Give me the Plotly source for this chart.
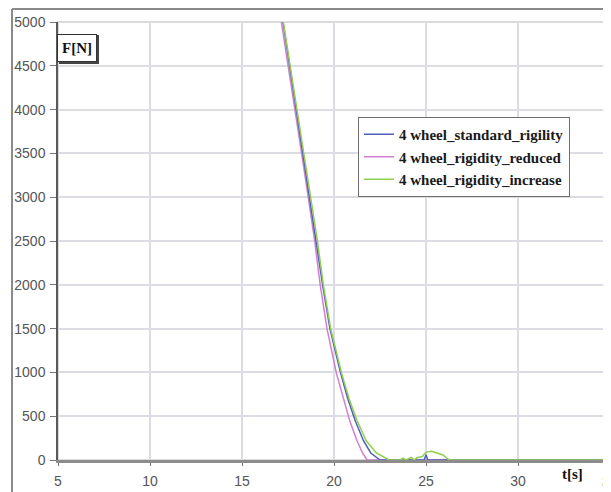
import plotly.graph_objects as go

# ---- data ----
t_standard = [16.8, 17.23, 17.6, 17.97, 18.33, 18.7, 19.05, 19.38, 19.78, 20.35, 20.75, 21.15, 21.6, 22.0, 22.5,
              24.9, 25.0, 25.1, 35.0]
f_standard = [5600, 5000, 4500, 4000, 3500, 3000, 2500, 2000, 1500, 1000, 700, 450, 220, 80, 0,
              0, 60, 0, 0]

t_reduced = [16.7, 17.15, 17.52, 17.88, 18.24, 18.6, 18.95, 19.25, 19.62, 20.12, 20.5, 20.85, 21.25, 21.55, 21.8, 35.0]
f_reduced = [5600, 5000, 4500, 4000, 3500, 3000, 2500, 2000, 1500, 1000, 700, 450, 220, 80, 0, 0]

t_increase = [16.8, 17.25, 17.63, 18.0, 18.36, 18.73, 19.1, 19.42, 19.82, 20.4, 20.82, 21.25, 21.75, 22.3, 23.0,
              23.6, 23.75, 23.9, 24.2, 24.35, 24.5, 24.8, 25.0, 25.3, 25.6, 25.9, 26.2, 26.4, 35.0]
f_increase = [5600, 5000, 4500, 4000, 3500, 3000, 2500, 2000, 1500, 1000, 700, 450, 220, 80, 0,
              0, 20, 0, 30, 0, 25, 40, 90, 100, 80, 60, 10, 0, 0]

names = ["4 wheel_standard_rigility", "4 wheel_rigidity_reduced", "4 wheel_rigidity_increase"]
colors = ["#4f5fb8", "#d07fd0", "#8fcf4f"]

x_ticks = [5, 10, 15, 20, 25, 30, 35]
y_ticks = [0, 500, 1000, 1500, 2000, 2500, 3000, 3500, 4000, 4500, 5000]

fig = go.Figure()
for t, f, n, c in [(t_reduced, f_reduced, names[1], colors[1]),
                   (t_standard, f_standard, names[0], colors[0]),
                   (t_increase, f_increase, names[2], colors[2])]:
    fig.add_trace(go.Scatter(x=t, y=f, mode="lines", name=n,
                             line=dict(color=c, width=1.5),
                             legendrank={names[0]: 1, names[1]: 2, names[2]: 3}[n]))

OFF = 8  # page body margin
W, H = 611 - OFF, 492 - OFF
L, R, T, B = 58 - OFF, 1, 22 - OFF, 32
pw, ph = W - L - R, H - T - B


def px(x):
    return (x - OFF - L) / pw


def py(y):
    return (H - B - (y - OFF)) / ph


tick_font = dict(family="Liberation Sans", size=14, color="#555555")

fig.update_layout(
    width=W, height=H,
    margin=dict(l=L, r=R, t=T, b=B),
    paper_bgcolor="white", plot_bgcolor="white",
    showlegend=True,
    legend=dict(
        x=px(358), y=py(117), xanchor="left", yanchor="top",
        bgcolor="white", bordercolor="#6e6e6e", borderwidth=1,
        font=dict(family="Liberation Serif", size=15, color="#1a1a1a", weight="bold"),
        tracegroupgap=0,
    ),
    xaxis=dict(
        range=[5, 35], tickvals=x_ticks, ticktext=[str(v) for v in x_ticks],
        showgrid=True, gridcolor="#dcdce4", gridwidth=1.5,
        zeroline=False, showline=True, linecolor="#8c8c8c", linewidth=3,
        ticks="outside", ticklen=3, tickcolor="#777", ticklabelstandoff=3,
        tickfont=tick_font,
    ),
    yaxis=dict(
        range=[0, 5000], tickvals=y_ticks, ticktext=[str(v) for v in y_ticks],
        showgrid=True, gridcolor="#dcdce4", gridwidth=1.5,
        zeroline=False, showline=True, linecolor="#5a5a5a", linewidth=1.5,
        ticks="outside", ticklen=6, tickcolor="#777", ticklabelstandoff=2,
        tickfont=tick_font,
    ),
    shapes=[
        # plot area border (light)
        dict(type="rect", xref="paper", yref="paper", x0=0, y0=0, x1=1, y1=1,
             line=dict(color="#d0d0d0", width=1.5), layer="below"),
        # outer chart frame
        dict(type="line", xref="paper", yref="paper", x0=px(12), x1=px(12), y0=py(9), y1=py(500),
             line=dict(color="#8a8a8a", width=2)),
        dict(type="line", xref="paper", yref="paper", x0=px(12), x1=px(620), y0=py(9), y1=py(9),
             line=dict(color="#8a8a8a", width=2)),
        # shadow of F[N] box
        dict(type="rect", xref="paper", yref="paper", x0=px(59), x1=px(99), y0=py(64), y1=py(35),
             line=dict(width=0), fillcolor="#444"),
    ],
    annotations=[
        dict(text="F[N]", xref="paper", yref="paper", x=px(77), y=py(47.5),
             xanchor="center", yanchor="middle", width=34, height=22,
             showarrow=False, bgcolor="white", bordercolor="#333", borderwidth=1, borderpad=2,
             font=dict(family="Liberation Serif", size=15, color="#111", weight="bold")),
        dict(text="t[s]", xref="paper", yref="paper", x=px(572), y=py(474),
             xanchor="center", yanchor="middle",
             showarrow=False,
             font=dict(family="Liberation Serif", size=15, color="#111", weight="bold")),
        # last x tick label, partly cut off by the image edge as in the reference
        dict(text=str(x_ticks[-1]), xref="x", yref="paper", x=x_ticks[-1], y=py(482),
             xanchor="center", yanchor="middle", showarrow=False, font=tick_font),
    ],
)

fig.write_html("out.html")
